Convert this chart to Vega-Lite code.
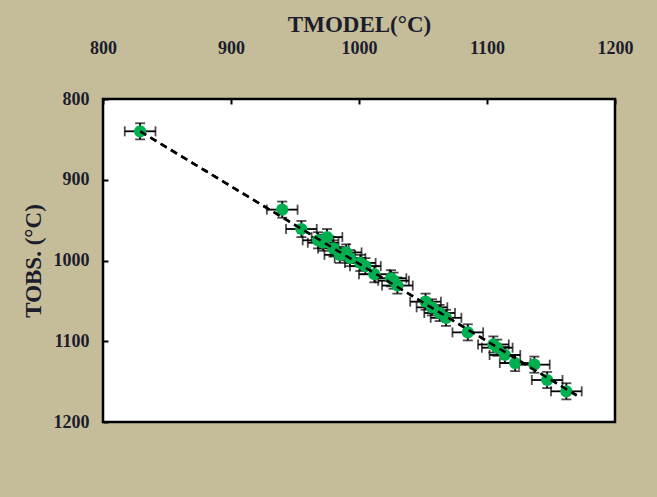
{
  "$schema": "https://vega.github.io/schema/vega-lite/v6.json",
  "width": 512,
  "height": 323,
  "autosize": {"type": "none"},
  "padding": {"left": 103, "top": 99, "right": 42, "bottom": 75},
  "background": "#c5bd99",
  "config": {
    "view": {"fill": "white", "stroke": "black", "strokeWidth": 2.5},
    "axis": {
      "labelFont": "Liberation Serif",
      "labelFontWeight": "bold",
      "labelFontSize": 18,
      "labelColor": "#1c1c2c",
      "labelFlush": false,
      "titleFont": "Liberation Serif",
      "titleFontWeight": "bold",
      "titleFontSize": 23,
      "titleColor": "#1c1c2c",
      "grid": false,
      "domain": false,
      "tickColor": "black",
      "tickWidth": 2,
      "tickSize": -5
    }
  },
  "datasets": {
    "pts": [
      {"model": 829, "obs": 840, "ex": 12, "ey": 10},
      {"model": 940, "obs": 937, "ex": 12, "ey": 10},
      {"model": 955, "obs": 961, "ex": 12, "ey": 10},
      {"model": 968, "obs": 975, "ex": 12, "ey": 10},
      {"model": 975, "obs": 971, "ex": 12, "ey": 10},
      {"model": 972, "obs": 978, "ex": 12, "ey": 10},
      {"model": 980, "obs": 985, "ex": 12, "ey": 10},
      {"model": 985, "obs": 993, "ex": 12, "ey": 10},
      {"model": 990, "obs": 990, "ex": 12, "ey": 10},
      {"model": 993, "obs": 997, "ex": 12, "ey": 10},
      {"model": 1001, "obs": 1003, "ex": 12, "ey": 10},
      {"model": 1005, "obs": 1007, "ex": 12, "ey": 10},
      {"model": 1012, "obs": 1017, "ex": 12, "ey": 10},
      {"model": 1025, "obs": 1022, "ex": 12, "ey": 10},
      {"model": 1027, "obs": 1025, "ex": 12, "ey": 10},
      {"model": 1030, "obs": 1031, "ex": 12, "ey": 10},
      {"model": 1052, "obs": 1051, "ex": 12, "ey": 10},
      {"model": 1057, "obs": 1058, "ex": 12, "ey": 10},
      {"model": 1063, "obs": 1065, "ex": 12, "ey": 10},
      {"model": 1068, "obs": 1071, "ex": 12, "ey": 10},
      {"model": 1085, "obs": 1089, "ex": 12, "ey": 10},
      {"model": 1105, "obs": 1104, "ex": 12, "ey": 10},
      {"model": 1108, "obs": 1108, "ex": 12, "ey": 10},
      {"model": 1114, "obs": 1117, "ex": 12, "ey": 10},
      {"model": 1122, "obs": 1127, "ex": 12, "ey": 10},
      {"model": 1137, "obs": 1129, "ex": 12, "ey": 10},
      {"model": 1147, "obs": 1148, "ex": 12, "ey": 10},
      {"model": 1162, "obs": 1162, "ex": 12, "ey": 10}
    ],
    "fit": [
      {"model": 829, "obs": 840},
      {"model": 1170, "obs": 1167}
    ]
  },
  "layer": [
    {
      "data": {"name": "fit"},
      "mark": {"type": "line", "color": "black", "strokeWidth": 2.5, "strokeDash": [7, 5]},
      "encoding": {
        "x": {"field": "model", "type": "quantitative", "title": "TMODEL(°C)", "scale": {"domain": [800, 1200], "nice": false},
          "axis": {"orient": "top", "values": [800, 900, 1000, 1100, 1200], "format": "d", "labelPadding": 47, "titlePadding": 3}},
        "y": {"field": "obs", "type": "quantitative", "title": "TOBS. (°C)", "scale": {"domain": [800, 1200], "nice": false, "reverse": true},
          "axis": {"orient": "left", "values": [800, 900, 1000, 1100, 1200], "format": "d", "labelPadding": 19, "titlePadding": 8}}
      }
    },
    {
      "data": {"name": "pts"},
      "mark": {"type": "errorbar", "ticks": {"color": "black", "size": 10, "thickness": 1.8}, "rule": {"color": "black", "strokeWidth": 1.8}},
      "encoding": {
        "x": {"field": "model", "type": "quantitative", "title": "TMODEL(°C)"},
        "xError": {"field": "ex"},
        "y": {"field": "obs", "type": "quantitative", "title": "TOBS. (°C)"}
      }
    },
    {
      "data": {"name": "pts"},
      "mark": {"type": "errorbar", "ticks": {"color": "black", "size": 10, "thickness": 1.8}, "rule": {"color": "black", "strokeWidth": 1.8}},
      "encoding": {
        "y": {"field": "obs", "type": "quantitative", "title": "TOBS. (°C)"},
        "yError": {"field": "ey"},
        "x": {"field": "model", "type": "quantitative", "title": "TMODEL(°C)"}
      }
    },
    {
      "data": {"name": "pts"},
      "mark": {"type": "circle", "color": "#00b050", "opacity": 1, "size": 150},
      "encoding": {
        "x": {"field": "model", "type": "quantitative", "title": "TMODEL(°C)"},
        "y": {"field": "obs", "type": "quantitative", "title": "TOBS. (°C)"}
      }
    },
    {
      "data": {"name": "fit"},
      "mark": {"type": "line", "color": "black", "strokeWidth": 2.5, "strokeDash": [7, 5]},
      "encoding": {
        "x": {"field": "model", "type": "quantitative", "title": "TMODEL(°C)"},
        "y": {"field": "obs", "type": "quantitative", "title": "TOBS. (°C)"}
      }
    }
  ]
}
